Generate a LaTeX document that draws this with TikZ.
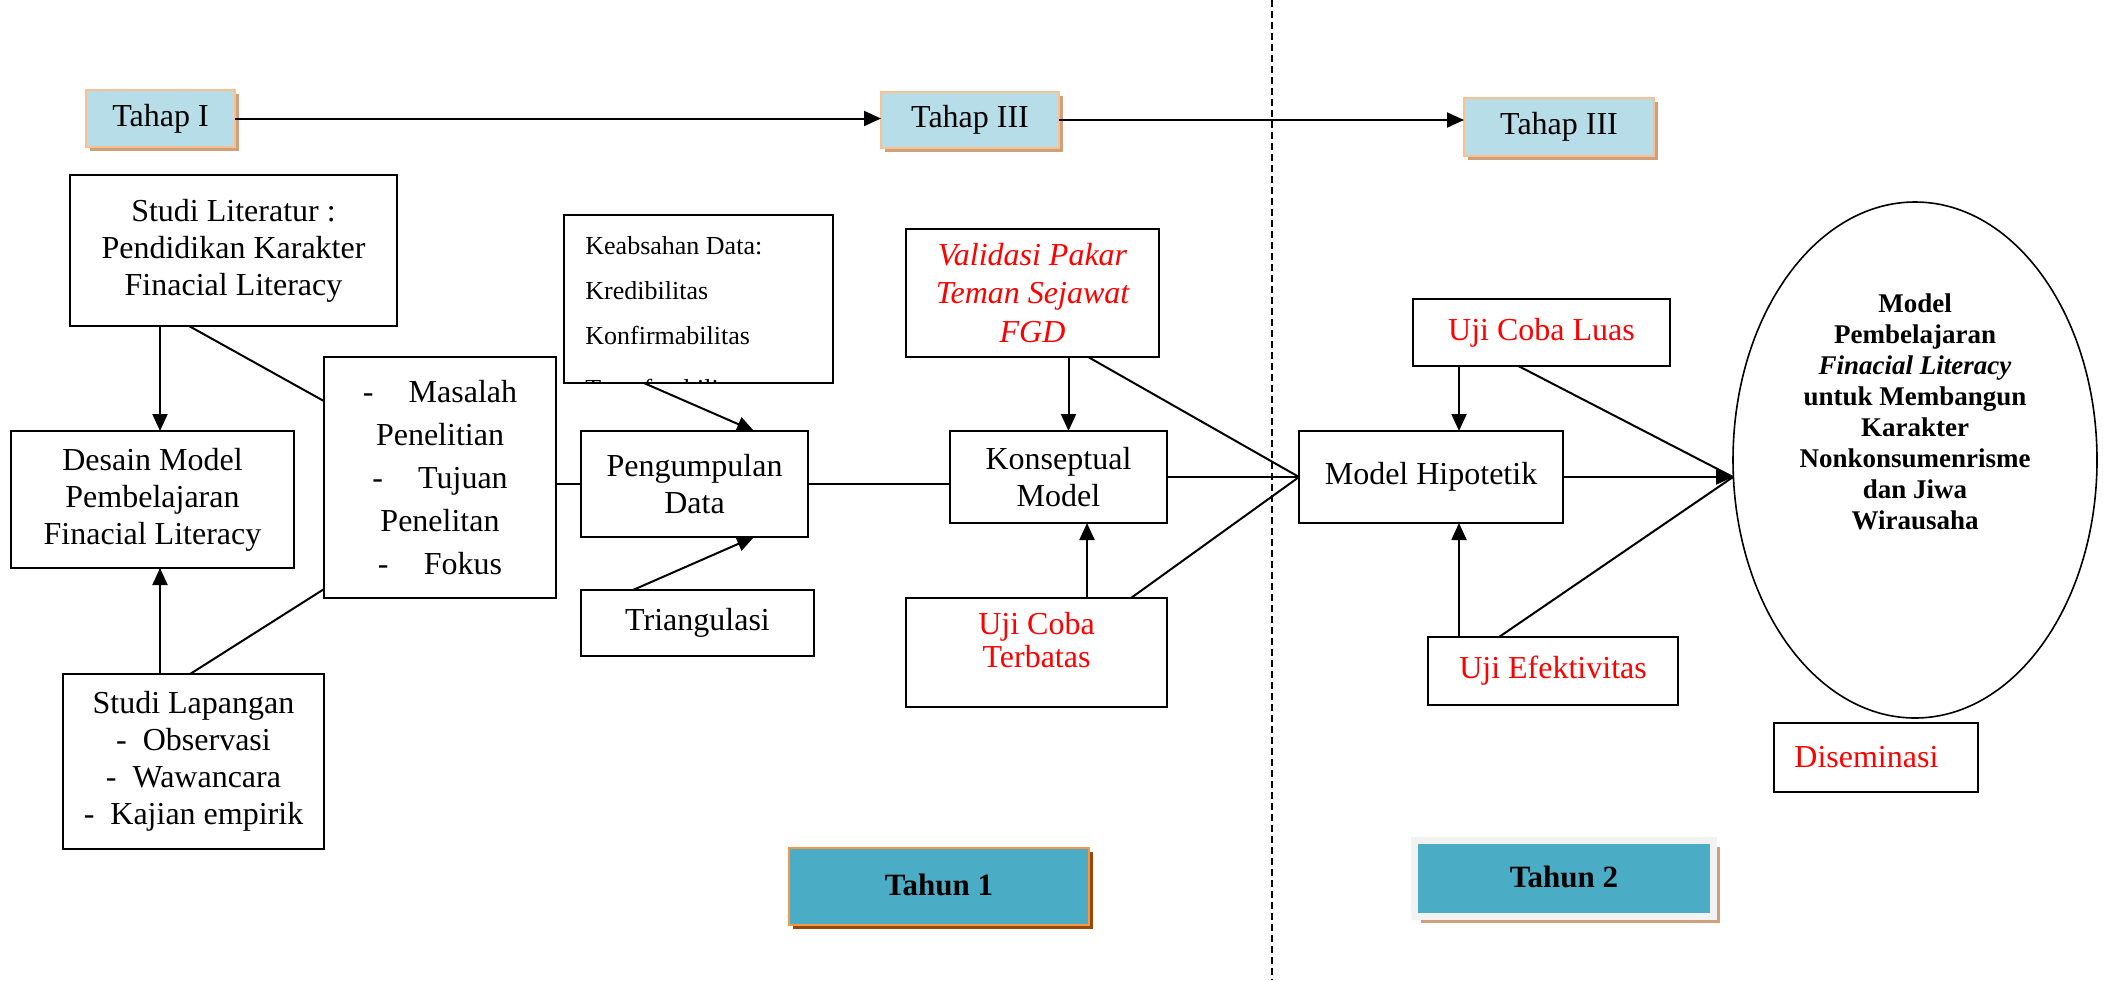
\documentclass[tikz,border=0pt]{standalone}
\usepackage{fontspec}
\setmainfont{Liberation Serif}
\usetikzlibrary{arrows.meta,shadows,calc,shapes.geometric}
\definecolor{tahapfill}{RGB}{183,221,232}
\definecolor{tahapdraw}{RGB}{250,192,144}
\definecolor{tahapshadow}{RGB}{206,160,124}
\definecolor{tahunfill}{RGB}{75,172,198}
\definecolor{tahundraw}{RGB}{247,150,70}
\definecolor{tahunshadow}{RGB}{152,72,7}
\definecolor{tahuntwodraw}{RGB}{242,242,242}
\definecolor{redtxt}{RGB}{255,0,0}
\begin{document}
\begin{tikzpicture}[x=0.5pt,y=-0.5pt,
  box/.style={draw=black, line width=1pt, inner sep=0pt, outer sep=0pt, align=center, font=\fontsize{16}{18.5}\selectfont},
  tahap/.style={box, fill=tahapfill, draw=tahapdraw, line width=1.2pt, drop shadow={shadow xshift=2pt, shadow yshift=-2pt, fill=tahapshadow, opacity=1}},
  tahun/.style={box, fill=tahunfill, font=\bfseries\fontsize{15.5}{18}\selectfont},
  redbox/.style={box, text=redtxt},
  conn/.style={line width=1pt},
  arr/.style={line width=1pt, -{Triangle[length=8.5pt,width=7.5pt]}},
  divider/.style={line width=0.7pt, dash pattern=on 3.5pt off 2pt},
]
\useasboundingbox (0,0) rectangle (2112,980);

% divider
\coordinate (dtop) at (1272,0);
\coordinate (dbot) at (1272,980);
\draw[divider] (dtop) -- (dbot);

% phase boxes
\node[tahap, minimum width=74.5pt, minimum height=28.5pt] (tahap1) at (160.5,118.5) {Tahap I};
\node[tahap, minimum width=89pt, minimum height=28pt] (tahap3a) at (970,120) {Tahap III};
\node[tahap, minimum width=95pt, minimum height=29pt] (tahap3b) at (1559,127) {Tahap III};

% left column
\node[box, minimum width=163.5pt, minimum height=75.5pt] (studilit) at (233.5,250.5) {Studi Literatur :\\Pendidikan Karakter\\Finacial Literacy};
\node[box, minimum width=141.5pt, minimum height=68.5pt] (desain) at (152.5,499.5) {Desain Model\\Pembelajaran\\Finacial Literacy};
\node[box, minimum width=130.5pt, minimum height=87.5pt] (studilap) at (193.5,761.5) {Studi Lapangan\\-\ \ Observasi\\-\ \ Wawancara\\-\ \ Kajian empirik};
\node[box, minimum width=116pt, minimum height=120.5pt, font=\fontsize{16}{21.5}\selectfont] (masalah) at (440,477.5) {-\hspace{1.1em}Masalah\\Penelitian\\-\hspace{1.1em}Tujuan\\Penelitan\\-\hspace{1.1em}Fokus};

% keabsahan (clipped text)
\node[box, minimum width=134.5pt, minimum height=84pt] (keab) at (698.5,299) {};
\begin{scope}
  \clip (keab.south west) rectangle (keab.north east);
  \node[anchor=north west, inner sep=0pt, align=left, font=\fontsize{13}{22.5}\selectfont] (keabtxt) at (585,236) {Keabsahan Data:\\Kredibilitas\\Konfirmabilitas\\[4pt]Transferabilitas};
\end{scope}
\draw[line width=1pt] (keab.south west) rectangle (keab.north east);

\node[box, minimum width=113.5pt, minimum height=53pt] (pengumpulan) at (694.5,484) {Pengumpulan\\Data};
\node[box, minimum width=116.5pt, minimum height=33pt] (triang) at (697.5,623) {Triangulasi};

% middle
\node[redbox, minimum width=126.5pt, minimum height=64pt, font=\itshape\fontsize{16}{19.25}\selectfont] (validasi) at (1032.5,293) {Validasi Pakar\\Teman Sejawat\\FGD};
\node[box, minimum width=108.5pt, minimum height=46pt] (konsep) at (1058.5,477) {Konseptual\\Model};
\node[redbox, minimum width=130.5pt, minimum height=54.5pt] (ujiterb) at (1036.5,652.5) {\raisebox{4pt}[\height][\depth]{\fontsize{16}{16.5}\selectfont\begin{tabular}{@{}c@{}}Uji Coba\\Terbatas\end{tabular}}};

% right
\node[box, minimum width=132pt, minimum height=46pt] (hipot) at (1431,477) {Model Hipotetik};
\node[redbox, minimum width=128.5pt, minimum height=33.5pt] (ujiluas) at (1541.5,332.5) {Uji Coba Luas};
\node[redbox, minimum width=125pt, minimum height=34pt] (ujiefek) at (1553,671) {Uji Efektivitas};
\node[draw, line width=0.8pt, ellipse, minimum width=182pt, minimum height=258pt, inner sep=0pt, outer sep=0pt] (ell) at (1915,460) {};
\node[align=center, inner sep=0pt, font=\bfseries\fontsize{13.5}{15.5}\selectfont] (elltxt) at (1915,412) {Model\\Pembelajaran\\\textit{Finacial Literacy}\\untuk Membangun\\Karakter\\Nonkonsumenrisme\\dan Jiwa\\Wirausaha};
\node[redbox, minimum width=102pt, minimum height=34.5pt] (disem) at (1876,757.5) {Diseminasi\hspace{0.6em}};

% year boxes
\node[tahun, draw=tahundraw, line width=1.2pt, minimum width=150pt, minimum height=38.5pt, drop shadow={shadow xshift=2pt, shadow yshift=-2pt, fill=tahunshadow, opacity=1}] (tahun1) at (939,886.5) {\raisebox{2pt}{Tahun 1}};
\node[tahun, draw=tahuntwodraw, line width=3.5pt, minimum width=149.5pt, minimum height=38pt, drop shadow={shadow xshift=3pt, shadow yshift=-3pt, fill=tahapshadow, opacity=1}] (tahun2) at (1564,878.5) {\raisebox{2pt}{Tahun 2}};

% connectors: phases
\draw[arr] (tahap1.east) -- (tahap1.east -| tahap3a.west);
\draw[arr] (tahap3a.east) -- (tahap3a.east -| tahap3b.west);

% left column
\draw[arr] ([xshift=3.75pt]desain.north |- studilit.south) -- ([xshift=3.75pt]desain.north);
\draw[arr] ([xshift=3.75pt]desain.south |- studilap.north) -- ([xshift=3.75pt]desain.south);
\draw[conn] ($(studilit.south west)!0.364!(studilit.south east)$) -- ($(masalah.north west)!0.183!(masalah.south west)$);
\draw[conn] ($(studilap.north west)!0.487!(studilap.north east)$) -- ($(masalah.north west)!0.963!(masalah.south west)$);
\draw[conn] (pengumpulan.west -| masalah.east) -- (pengumpulan.west);
\draw[arr] ($(keab.south west)!0.297!(keab.south east)$) -- ($(pengumpulan.north west)!0.762!(pengumpulan.north east)$);
\draw[arr] ($(triang.north west)!0.223!(triang.north east)$) -- ($(pengumpulan.south west)!0.762!(pengumpulan.south east)$);
\draw[conn] (pengumpulan.east) -- (pengumpulan.east -| konsep.west);

% middle
\draw[arr] ([xshift=5pt]konsep.north |- validasi.south) -- ([xshift=5pt]konsep.north);
\draw[arr] ([xshift=14.25pt]konsep.south |- ujiterb.north) -- ([xshift=14.25pt]konsep.south);
\draw[conn] (konsep.east) -- (hipot.west);
\draw[conn] ($(validasi.south west)!0.72!(validasi.south east)$) -- (hipot.west);
\draw[conn] ($(ujiterb.north west)!0.862!(ujiterb.north east)$) -- (hipot.west);

% right
\draw[arr] ([xshift=14pt]hipot.north |- ujiluas.south) -- ([xshift=14pt]hipot.north);
\draw[arr] ([xshift=14pt]hipot.south |- ujiefek.north) -- ([xshift=14pt]hipot.south);
\draw[arr] (hipot.east) -- (hipot.east -| ell.west);
\draw[conn] ($(ujiluas.south west)!0.41!(ujiluas.south east)$) -- (hipot.east -| ell.west);
\draw[conn] ($(ujiefek.north west)!0.284!(ujiefek.north east)$) -- (hipot.east -| ell.west);
\end{tikzpicture}
\end{document}
